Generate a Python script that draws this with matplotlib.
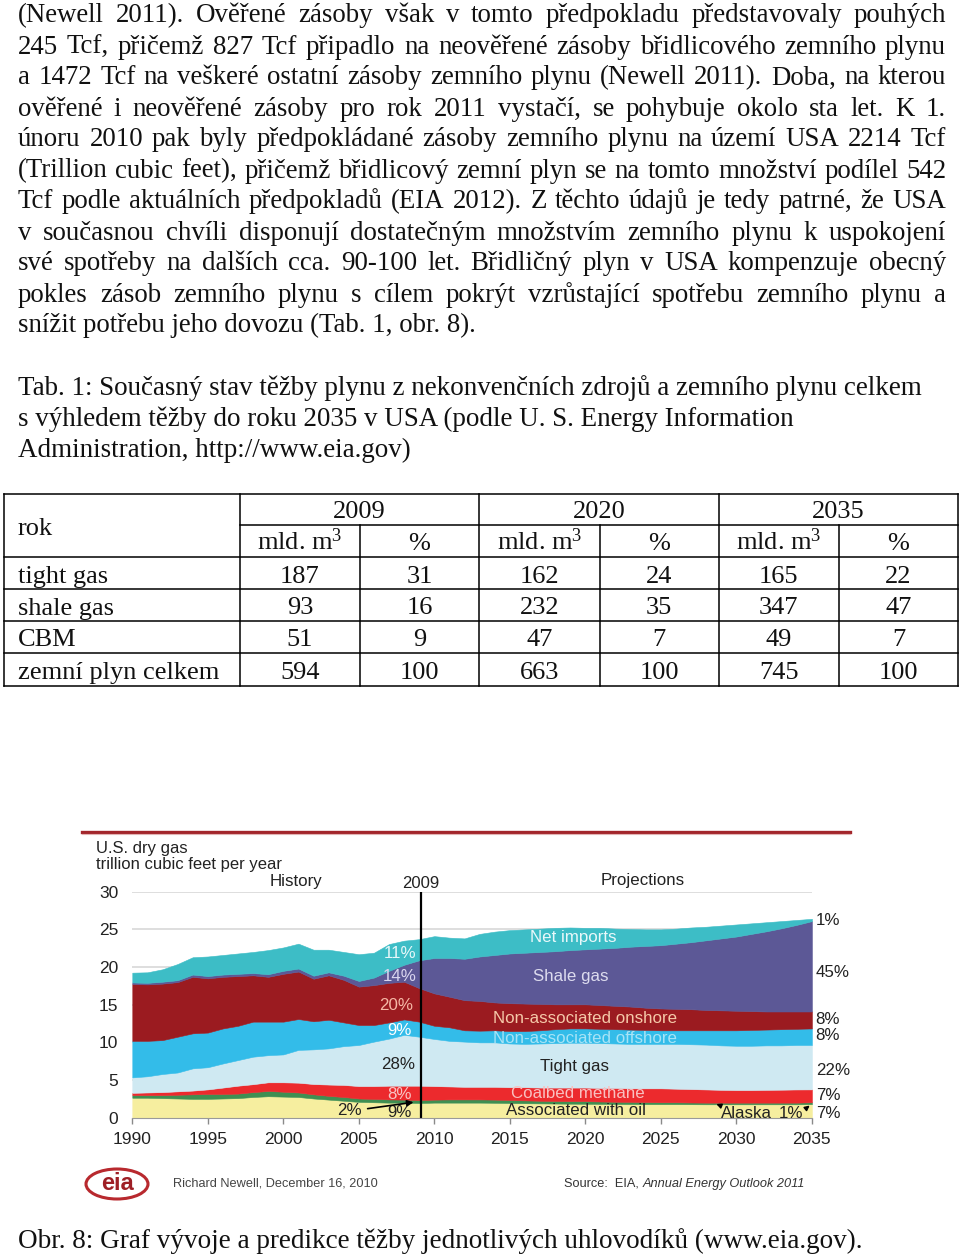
import matplotlib
matplotlib.use('Agg')
import matplotlib.pyplot as plt
from matplotlib.lines import Line2D
from matplotlib.patches import Ellipse

plt.rcParams['mathtext.fontset'] = 'custom'
plt.rcParams['mathtext.rm'] = 'Liberation Serif'
plt.rcParams['mathtext.it'] = 'Liberation Serif:italic'

# ------------------------------------------------------------------ data
paragraph_lines = [
    "(Newell 2011). Ověřené zásoby však v tomto předpokladu představovaly pouhých",
    "245 Tcf, přičemž 827 Tcf připadlo na neověřené zásoby břidlicového zemního plynu",
    "a 1472 Tcf na veškeré ostatní zásoby zemního plynu (Newell 2011). Doba, na kterou",
    "ověřené i neověřené zásoby pro rok 2011 vystačí, se pohybuje okolo sta let. K 1.",
    "únoru 2010 pak byly předpokládané zásoby zemního plynu na území USA 2214 Tcf",
    "(Trillion cubic feet), přičemž břidlicový zemní plyn se na tomto množství podílel 542",
    "Tcf podle aktuálních předpokladů (EIA 2012). Z těchto údajů je tedy patrné, že USA",
    "v současnou chvíli disponují dostatečným množstvím zemního plynu k uspokojení",
    "své spotřeby na dalších cca. 90-100 let. Břidličný plyn v USA kompenzuje obecný",
    "pokles zásob zemního plynu s cílem pokrýt vzrůstající spotřebu zemního plynu a",
    "snížit potřebu jeho dovozu (Tab. 1, obr. 8).",
]
table_caption = [
    "Tab. 1: Současný stav těžby plynu z nekonvenčních zdrojů a zemního plynu celkem",
    "s výhledem těžby do roku 2035 v USA (podle U. S. Energy Information",
    "Administration, http://www.eia.gov)",
]
figure_caption = "Obr. 8: Graf vývoje a predikce těžby jednotlivých uhlovodíků (www.eia.gov)."

table_corner = "rok"
table_years = ["2009", "2020", "2035"]
table_units = ["mld. m$^3$", "%"]
table_rows = ["tight gas", "shale gas", "CBM", "zemní plyn celkem"]
vol_2009 = [187, 93, 51, 594]
pct_2009 = [31, 16, 9, 100]
vol_2020 = [162, 232, 47, 663]
pct_2020 = [24, 35, 7, 100]
vol_2035 = [165, 347, 49, 745]
pct_2035 = [22, 47, 7, 100]

years = list(range(1990, 2036))
associated_with_oil = [2.65, 2.65, 2.6, 2.55, 2.5, 2.5, 2.55, 2.6, 2.75, 2.85,
                       2.8, 2.75, 2.55, 2.4, 2.25, 2.1, 2.05, 2.0, 2.0, 1.95,
                       2.0, 2.0, 2.0, 2.0, 1.98, 1.95, 1.92, 1.9, 1.88, 1.86,
                       1.85, 1.83, 1.82, 1.81, 1.8, 1.8, 1.8, 1.79, 1.78, 1.78,
                       1.78, 1.78, 1.78, 1.78, 1.78, 1.8]
alaska = [0.35, 0.35, 0.4, 0.5, 0.6, 0.65, 0.6, 0.6, 0.65, 0.7,
          0.65, 0.6, 0.55, 0.5, 0.5, 0.45, 0.45, 0.43, 0.4, 0.4,
          0.4, 0.43, 0.43, 0.43, 0.42, 0.4, 0.38, 0.35, 0.34, 0.34,
          0.35, 0.32, 0.3, 0.29, 0.28, 0.25, 0.25, 0.23, 0.22, 0.22,
          0.22, 0.22, 0.22, 0.22, 0.22, 0.25]
coalbed_methane = [0.3, 0.35, 0.4, 0.45, 0.5, 0.61, 0.85, 1.05, 1.05, 1.15,
                   1.25, 1.3, 1.37, 1.5, 1.6, 1.65, 1.7, 1.82, 1.85, 1.9,
                   1.8, 1.72, 1.67, 1.67, 1.7, 1.7, 1.75, 1.75, 1.78, 1.8,
                   1.8, 1.8, 1.83, 1.8, 1.82, 1.85, 1.8, 1.78, 1.75, 1.7,
                   1.67, 1.67, 1.7, 1.72, 1.75, 1.71]
tight_gas = [2.05, 2.15, 2.4, 2.5, 2.95, 2.94, 3.2, 3.4, 3.65, 3.6,
             3.7, 4.35, 4.6, 4.8, 5.15, 5.45, 5.9, 6.25, 6.75, 6.5,
             6.25, 6.05, 6.0, 5.9, 5.9, 5.8, 5.75, 5.85, 5.9, 5.95,
             5.95, 5.95, 5.9, 5.9, 5.9, 5.9, 5.95, 5.95, 5.95, 5.9,
             5.88, 5.88, 5.9, 5.88, 5.9, 5.89]
non_associated_offshore = [4.85, 4.7, 4.5, 4.75, 4.65, 4.6, 4.65, 4.55, 4.65, 4.45,
                           4.35, 4.1, 3.73, 3.8, 3.15, 2.65, 2.2, 2.15, 2.05, 2.0,
                           1.75, 1.8, 1.5, 1.55, 1.6, 1.65, 1.7, 1.75, 1.85, 1.9,
                           1.9, 1.9, 1.9, 1.9, 1.85, 1.8, 1.8, 1.85, 1.9, 2.0,
                           2.05, 2.1, 2.1, 2.15, 2.15, 2.2]
non_associated_onshore = [7.55, 7.5, 7.5, 7.25, 7.5, 7.2, 6.85, 6.6, 6.15, 5.95,
                          6.35, 6.3, 5.65, 5.9, 5.65, 5.1, 5.3, 5.25, 5.0, 4.45,
                          4.3, 4.06, 4.0, 3.95, 3.7, 3.7, 3.65, 3.5, 3.3, 3.2,
                          3.2, 3.15, 3.1, 3.05, 2.95, 2.9, 2.85, 2.8, 2.7, 2.65,
                          2.6, 2.5, 2.4, 2.35, 2.3, 2.25]
shale_gas = [0.2, 0.2, 0.25, 0.25, 0.3, 0.3, 0.3, 0.3, 0.3, 0.35,
             0.4, 0.4, 0.4, 0.4, 0.55, 0.75, 1.0, 1.6, 2.25, 3.7,
             4.7, 5.14, 5.5, 5.9, 6.3, 6.6, 6.75, 6.9, 7.05, 7.2,
             7.3, 7.5, 7.7, 7.95, 8.2, 8.4, 8.65, 8.9, 9.25, 9.55,
             9.85, 10.25, 10.65, 11.05, 11.5, 12.0]
net_imports = [1.3, 1.4, 1.65, 2.15, 2.3, 2.6, 2.6, 2.7, 2.8, 3.2,
               3.1, 3.3, 3.45, 3.0, 3.15, 3.55, 3.3, 3.55, 3.2, 2.8,
               2.9, 2.7, 2.7, 3.0, 3.1, 3.1, 3.1, 3.1, 3.1, 3.0,
               2.85, 2.75, 2.55, 2.35, 2.2, 2.1, 2.0, 1.95, 1.8, 1.7,
               1.6, 1.4, 1.2, 0.95, 0.65, 0.3]

series_names = ["Associated with oil", "Alaska", "Coalbed methane", "Tight gas",
                "Non-associated offshore", "Non-associated onshore", "Shale gas", "Net imports"]
shares_2009 = ["9%", "2%", "8%", "28%", "9%", "20%", "14%", "11%"]
shares_2035 = ["7%", "1%", "7%", "22%", "8%", "8%", "45%", "1%"]

# ------------------------------------------------------------------ figure
W, H = 960, 1257
fig = plt.figure(figsize=(W / 100, H / 100), dpi=100)
fig.patch.set_facecolor('white')
SERIF = 'Liberation Serif'
SANS = 'Liberation Sans'


def fx(x):
    return x / W


def fy(y):
    return 1 - y / H


renderer = fig.canvas.get_renderer()


def width_of(s, size, family, **kw):
    t = fig.text(0, 0, s, fontsize=size, family=family, **kw)
    w = t.get_window_extent(renderer).width
    t.remove()
    return w


def put_line(line, base_y, x0, x1, size, family, justify):
    if not justify:
        fig.text(fx(x0), fy(base_y), line, fontsize=size, family=family,
                 ha='left', va='baseline', color='#111')
        return
    words = line.split(' ')
    ws = [width_of(w, size, family) for w in words]
    gap = (x1 - x0 - sum(ws)) / (len(words) - 1)
    x = x0
    for w, wd in zip(words, ws):
        fig.text(fx(x), fy(base_y), w, fontsize=size, family=family,
                 ha='left', va='baseline', color='#111')
        x += wd + gap


BODY = 19.4
for i, line in enumerate(paragraph_lines):
    put_line(line, 22.5 + 31 * i, 18, 946, BODY, SERIF, i < len(paragraph_lines) - 1)

# caption (condensed look approximated by fitting the width)
cap_size = BODY * 900 / width_of(table_caption[0], BODY, SERIF)
for i, line in enumerate(table_caption):
    put_line(line, 395 + 31 * i, 18, 946, cap_size, SERIF, False)

# ------------------------------------------------------------------ table
def hline(y, x0, x1):
    fig.add_artist(Line2D([fx(x0), fx(x1)], [fy(y), fy(y)], color='black', lw=1.1))


def vline(x, y0, y1):
    fig.add_artist(Line2D([fx(x), fx(x)], [fy(y0), fy(y1)], color='black', lw=1.1))


TBL = 19
t_top, t_sub, t_bot = 494, 524.5, 685.5
row_edges = [556.7, 588.7, 620.7, 652.7, 685.5]
col_edges = [4, 240, 360, 479, 600, 718.5, 839, 958]
hline(t_top, 4, 958)
hline(t_sub, 240, 958)
for y in row_edges:
    hline(y, 4, 958)
for x in [4, 240, 479, 718.5, 958]:
    vline(x, t_top, t_bot)
for x in [360, 600, 839]:
    vline(x, t_sub, t_bot)

fig.text(fx(18), fy(535), table_corner, fontsize=TBL, family=SERIF, va='baseline', color='#111')
for k, yr in enumerate(table_years):
    cx = (col_edges[1 + 2 * k] + col_edges[3 + 2 * k]) / 2
    fig.text(fx(cx), fy(518), yr, fontsize=TBL, family=SERIF, ha='center', va='baseline', color='#111')
col_centers = [(col_edges[i] + col_edges[i + 1]) / 2 for i in range(1, 7)]
for i, c in enumerate(col_centers):
    fig.text(fx(c), fy(550), table_units[i % 2], fontsize=TBL, family=SERIF,
             ha='center', va='baseline', color='#111')
cols = [vol_2009, pct_2009, vol_2020, pct_2020, vol_2035, pct_2035]
row_base = [582.7, 614.5, 646.5, 678.5]
for r, name in enumerate(table_rows):
    fig.text(fx(18), fy(row_base[r]), name, fontsize=TBL, family=SERIF, va='baseline', color='#111')
    for c, col in enumerate(cols):
        fig.text(fx(col_centers[c]), fy(row_base[r]), str(col[r]), fontsize=TBL, family=SERIF,
                 ha='center', va='baseline', color='#111')

# ------------------------------------------------------------------ chart
x_l, x_r, y_b, y_t = 132.3, 811.9, 1117.7, 891.7
ax = fig.add_axes([fx(x_l), fy(y_b), (x_r - x_l) / W, (y_b - y_t) / H])
ax.set_xlim(1990, 2035)
ax.set_ylim(0, 30)
ax.patch.set_alpha(0)

for v in range(5, 31, 5):
    ax.axhline(v, color='#d8d8d8', lw=1.2, zorder=0)

colors = ['#f6ee9f', '#3f8f52', '#ec2a2d', '#cfe9f2', '#33bce9', '#9b1b20', '#5c5896', '#3dbdc6']
ax.stackplot(years, associated_with_oil, alaska, coalbed_methane, tight_gas,
             non_associated_offshore, non_associated_onshore, shale_gas, net_imports,
             colors=colors, edgecolor='face', linewidth=0.4, zorder=2)

ax.plot([2009.1, 2009.1], [0, 30], color='black', lw=1.6, zorder=5)

for s in ['top', 'right', 'left']:
    ax.spines[s].set_visible(False)
ax.spines['bottom'].set_color('#9a9a9a')
ax.spines['bottom'].set_zorder(6)
ax.set_xticks(range(1990, 2036, 5))
ax.set_yticks(range(0, 31, 5))
ax.tick_params(axis='x', direction='out', length=4, width=1, color='#8a8a8a', pad=6,
               labelsize=12.5, labelcolor='#222')
ax.tick_params(axis='y', length=0, pad=10, labelsize=12.5, labelcolor='#222')
for lab in ax.get_xticklabels() + ax.get_yticklabels():
    lab.set_family(SANS)

tkw = dict(family=SANS, fontsize=12.2, ha='center', va='center', zorder=7, clip_on=False)
ax.text(2009.1, 30.15, '2009', va='bottom', ha='center', family=SANS, fontsize=12, color='#222', clip_on=False)
ax.text(2000.85, 31.4, 'History', **{**tkw, 'color': '#222'})
ax.text(2023.8, 31.5, 'Projections', **{**tkw, 'color': '#222'})

# 2009 shares
hist_pos = [(2007.7, 0.75), (2004.4, 0.93), (2007.7, 3.1), (2007.6, 7.1),
            (2007.7, 11.6), (2007.5, 14.9), (2007.7, 18.7), (2007.7, 21.8)]
hist_col = ['#222', '#222', '#f8c4c4', '#222', '#ffffff', '#f6b8a6', '#d9d5ef', '#e6f7f9']
for (x, y), t, c in zip(hist_pos, shares_2009, hist_col):
    ax.text(x, y, t, color=c, **tkw)
ax.annotate('', xy=(2008.8, 2.1), xytext=(2005.4, 1.15),
            arrowprops=dict(arrowstyle='-|>', color='black', lw=1.2, mutation_scale=9), zorder=7)

# series names (projection area)
name_pos = [(2019.4, 1.0), None, (2019.5, 3.2), (2019.3, 6.86),
            (2020.0, 10.5), (2020.0, 13.2), (2019.0, 18.7), (2019.2, 23.9)]
name_col = ['#222', None, '#f9c0c0', '#222', '#a7e3f6', '#f5c8a8', '#dcdbee', '#e9f8fa']
for p, n, c in zip(name_pos, series_names, name_col):
    if p is None:
        continue
    ax.text(p[0], p[1], n, color=c, **tkw)
ax.text(2029.0, 0.62, 'Alaska', color='#222', **{**tkw, 'ha': 'left'})
ax.text(2033.6, 0.62, shares_2035[1], color='#222', **tkw)
ax.annotate('', xy=(2028.5, 1.95), xytext=(2029.0, 1.55),
            arrowprops=dict(arrowstyle='-|>', color='black', lw=1.1, mutation_scale=7), zorder=7)
ax.annotate('', xy=(2035.0, 1.85), xytext=(2034.5, 1.05),
            arrowprops=dict(arrowstyle='-|>', color='black', lw=1.1, mutation_scale=7), zorder=7)

# 2035 shares, right of the plot
right_y = [0.5, None, 2.9, 6.3, 10.85, 13.0, 19.25, 26.2]
for y, t in zip(right_y, shares_2035):
    if y is None:
        continue
    ax.text(2035.25, y, t, color='#222', **{**tkw, 'ha': 'left'})

ax.text(-0.053, 1.19, 'U.S. dry gas', transform=ax.transAxes, family=SANS, fontsize=12,
        color='#222', ha='left', va='center')
ax.text(-0.053, 1.12, 'trillion cubic feet per year', transform=ax.transAxes, family=SANS,
        fontsize=12, color='#222', ha='left', va='center')

# red rule above chart
fig.add_artist(Line2D([fx(82), fx(850)], [fy(832), fy(832)], color='#a3262b', lw=2.4))
fig.add_artist(Line2D([fx(82), fx(850)], [fy(834), fy(834)], color='#e2b3b3', lw=0.8))

# footer
fig.add_artist(Ellipse((fx(117), fy(1184)), 62 / W, 30 / H, transform=fig.transFigure,
                       fill=False, edgecolor='#b8292e', lw=2.2))
fig.text(fx(117), fy(1184), 'eia', fontsize=17, weight='bold', family=SANS, color='#9e1f25',
         ha='center', va='center')
FOOT = 9.2
fig.text(fx(173), fy(1184), 'Richard Newell, December 16, 2010', fontsize=FOOT, family=SANS,
         color='#444', ha='left', va='center')
fig.text(fx(564), fy(1184), 'Source:  EIA, ', fontsize=FOOT, family=SANS, color='#333',
         ha='left', va='center')
sw = width_of('Source:  EIA, ', FOOT, SANS)
fig.text(fx(564 + sw), fy(1184), 'Annual Energy Outlook 2011', fontsize=FOOT, family=SANS,
         style='italic', color='#333', ha='left', va='center')

# figure caption
fc_size = BODY * 839 / width_of(figure_caption, BODY, SERIF)
fig.text(fx(18), fy(1248), figure_caption, fontsize=fc_size, family=SERIF, ha='left',
         va='baseline', color='#111')

fig.savefig('out.png', dpi=100, facecolor='white')
